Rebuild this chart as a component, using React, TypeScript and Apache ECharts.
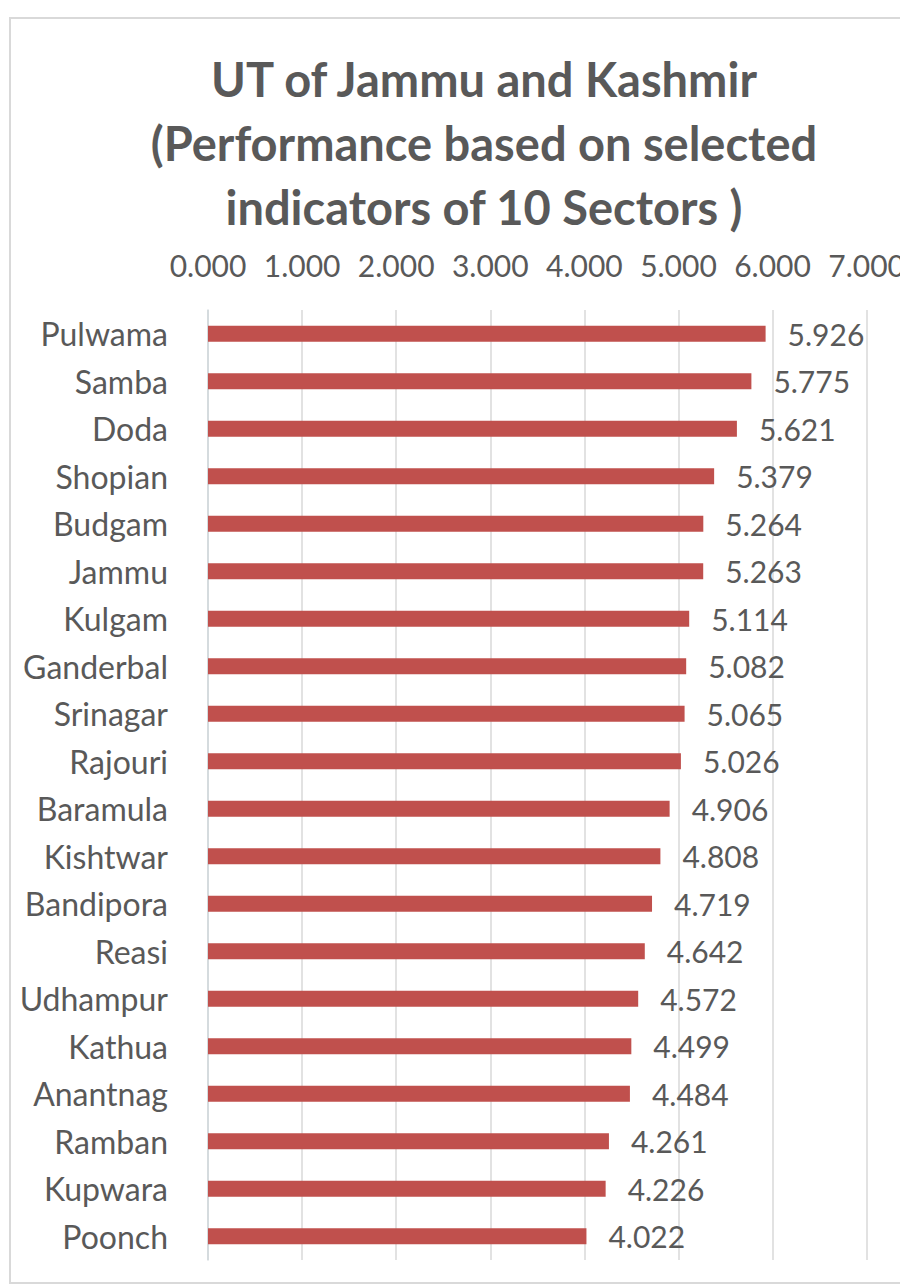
import React, { useEffect, useRef } from "react";
import * as echarts from "echarts";

const districts = [
  "Pulwama", "Samba", "Doda", "Shopian", "Budgam", "Jammu", "Kulgam", "Ganderbal",
  "Srinagar", "Rajouri", "Baramula", "Kishtwar", "Bandipora", "Reasi", "Udhampur",
  "Kathua", "Anantnag", "Ramban", "Kupwara", "Poonch",
];
const scores = [
  5.926, 5.775, 5.621, 5.379, 5.264, 5.263, 5.114, 5.082, 5.065, 5.026, 4.906,
  4.808, 4.719, 4.642, 4.572, 4.499, 4.484, 4.261, 4.226, 4.022,
];
const titleText = "UT of Jammu and Kashmir\n(Performance based on selected\nindicators of 10 Sectors )";

const FONT = "Lato, 'Open Sans', sans-serif";
const GREY = "#595959";

export default function App() {
  const ref = useRef<HTMLDivElement>(null);
  useEffect(() => {
    if (!ref.current) return;
    const chart = echarts.init(ref.current, undefined, { renderer: "svg" });
    chart.setOption({
      animation: false,
      backgroundColor: "#ffffff",
      title: {
        text: titleText,
        left: 479,
        textAlign: "center",
        top: 42,
        textStyle: {
          fontFamily: FONT,
          fontWeight: "bold",
          fontSize: 47,
          lineHeight: 64,
          color: GREY,
        },
      },
      graphic: [
        {
          type: "rect",
          shape: { x: 10, y: 18, width: 920, height: 1265 },
          style: { fill: "none", stroke: "#d9d9d9", lineWidth: 2 },
          silent: true,
        },
      ],
      grid: { left: 208, right: 35, top: 310, bottom: 27, containLabel: false },
      xAxis: {
        type: "value",
        position: "top",
        min: 0,
        max: 7,
        interval: 1,
        axisLine: { show: false },
        axisTick: { show: false },
        splitLine: { show: true, lineStyle: { color: "#d9d9d9", width: 1.5 } },
        axisLabel: {
          margin: 30,
          color: GREY,
          fontFamily: FONT,
          fontSize: 30,
          formatter: (v: number) => v.toFixed(3),
        },
      },
      yAxis: {
        type: "category",
        data: districts,
        inverse: true,
        axisLine: { show: true, lineStyle: { color: "#d0d8dc", width: 1.5 } },
        axisTick: { show: false },
        axisLabel: {
          margin: 40,
          color: GREY,
          fontFamily: FONT,
          fontSize: 32,
        },
      },
      series: [
        {
          type: "bar",
          data: scores,
          barWidth: 16,
          itemStyle: { color: "#c0504d" },
          label: {
            show: true,
            position: "right",
            distance: 22,
            color: GREY,
            fontFamily: FONT,
            fontSize: 30,
            formatter: (p: any) => Number(p.value).toFixed(3),
          },
        },
      ],
    });
    return () => chart.dispose();
  }, []);
  return <div ref={ref} style={{ width: 908, height: 1287, marginLeft: -8, marginTop: -8 }} />;
}
